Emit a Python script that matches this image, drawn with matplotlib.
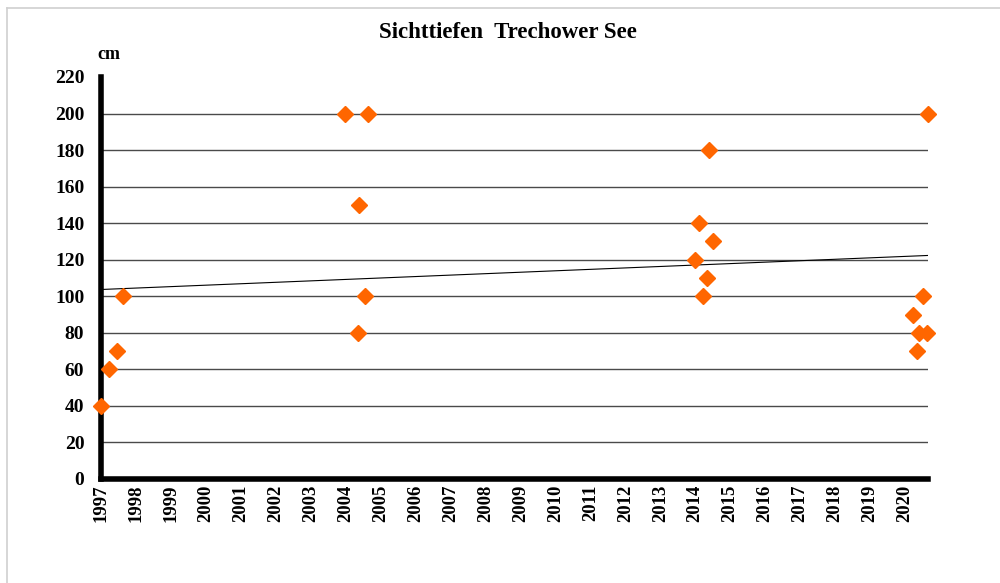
import numpy as np
import matplotlib.pyplot as plt
from matplotlib.lines import Line2D

# Sichttiefen (cm) nach Messdatum (Jahr als Dezimalzahl)
jahre = [1997.0, 1997.23, 1997.46, 1997.63,
         2003.97, 2004.63, 2004.37, 2004.54, 2004.34,
         2014.4, 2014.11, 2014.51, 2014.0, 2014.34, 2014.23,
         2020.66, 2020.51, 2020.23, 2020.4, 2020.63, 2020.34]
tiefe = [40, 60, 70, 100,
         200, 200, 150, 100, 80,
         180, 140, 130, 120, 110, 100,
         200, 100, 90, 80, 80, 70]
jahr_ticks = list(range(1997, 2021))
y_ticks = list(range(0, 221, 20))

plt.rcParams['font.family'] = ['Liberation Serif', 'DejaVu Serif']
plt.rcParams['font.weight'] = 'bold'

fig = plt.figure(figsize=(10, 5.83), dpi=100)
ax = fig.add_axes([0.101, 0.1784, 0.827, 0.6896])

x_min, x_max = 1997, 2020.66

# horizontale Gitterlinien
for v in y_ticks[1:-1]:
    ax.axhline(v, color='#4a4a4a', lw=1.0, zorder=1)

# Trendlinie (linear)
k, d = np.polyfit(jahre, tiefe, 1)
tx = np.array([x_min, x_max])
ax.plot(tx, k * tx + d, color='black', lw=0.8, zorder=2)

ax.plot(jahre, tiefe, linestyle='none', marker='D', ms=8.5,
        color='#FF6600', mec='#FF6600', zorder=3, clip_on=False)

ax.set_xlim(x_min, x_max)
ax.set_ylim(0, 220)
ax.set_xticks(jahr_ticks)
ax.set_xticklabels([str(j) for j in jahr_ticks], rotation=90, fontsize=13.5,
                   fontweight='bold')
ax.set_yticks(y_ticks)
ax.set_yticklabels([str(v) for v in y_ticks], fontsize=14, fontweight='bold')
ax.tick_params(length=0, pad=4)
ax.tick_params(axis='y', pad=12)

for s in ['top', 'right']:
    ax.spines[s].set_visible(False)
ax.spines['left'].set_linewidth(4)
ax.spines['bottom'].set_linewidth(4)

fig.text(0.508, 0.944, 'Sichttiefen  Trechower See', ha='center', va='center',
         fontsize=16.5, fontweight='bold')
fig.text(0.1085, 0.907, 'cm', ha='center', va='center', fontsize=13,
         fontweight='bold')

# heller Rahmen oben und links
fig.add_artist(Line2D([0.007, 1.0], [0.987, 0.987], color='#d0d0d0', lw=1.2,
                      transform=fig.transFigure))
fig.add_artist(Line2D([0.007, 0.007], [0.0, 0.987], color='#d0d0d0', lw=1.2,
                      transform=fig.transFigure))

fig.savefig('out.png', dpi=100)
